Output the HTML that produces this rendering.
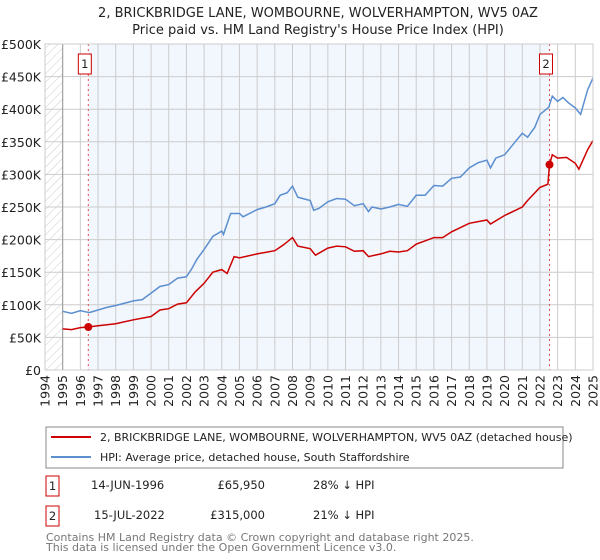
<!DOCTYPE html>
<html><head><meta charset="utf-8"><style>
body{margin:0;background:#fff;}
svg{display:block;font-family:"DejaVu Sans","Liberation Sans",sans-serif;}
</style></head><body>
<svg id="chart" width="600" height="560" xmlns="http://www.w3.org/2000/svg">
<defs><pattern id="hatch" width="6" height="6" patternUnits="userSpaceOnUse" patternTransform="rotate(45)"><line x1="0" y1="0" x2="0" y2="6" stroke="#ccc" stroke-width="1"/></pattern></defs>
<text x="318" y="17" font-size="13" text-anchor="middle" fill="#222">2, BRICKBRIDGE LANE, WOMBOURNE, WOLVERHAMPTON, WV5 0AZ</text>
<text x="318" y="34" font-size="13" text-anchor="middle" fill="#222">Price paid vs. HM Land Registry's House Price Index (HPI)</text>
<g id="plot"></g>
<g>
<rect x="46" y="427" width="517" height="41" fill="#fff" stroke="#888"/>
<line x1="51" y1="437" x2="91" y2="437" stroke="#cc0000" stroke-width="2"/>
<text x="100" y="441" font-size="11" fill="#222">2, BRICKBRIDGE LANE, WOMBOURNE, WOLVERHAMPTON, WV5 0AZ (detached house)</text>
<line x1="51" y1="457" x2="91" y2="457" stroke="#5b8fd0" stroke-width="2"/>
<text x="100" y="461" font-size="11" fill="#222">HPI: Average price, detached house, South Staffordshire</text>
</g>
<g font-size="11.5" fill="#222">
<rect x="46" y="476" width="13" height="20" fill="#fff" stroke="#cc0000"/>
<text x="52.5" y="490" text-anchor="middle">1</text>
<text x="91" y="489">14-JUN-1996</text>
<text x="265" y="489" text-anchor="end">£65,950</text>
<text x="313" y="489">28% ↓ HPI</text>
<rect x="46" y="506" width="13" height="20" fill="#fff" stroke="#cc0000"/>
<text x="52.5" y="520" text-anchor="middle">2</text>
<text x="94" y="519">15-JUL-2022</text>
<text x="265" y="519" text-anchor="end">£315,000</text>
<text x="313" y="519">21% ↓ HPI</text>
</g>
<text x="46" y="541" font-size="11" fill="#777">Contains HM Land Registry data © Crown copyright and database right 2025.</text>
<text x="46" y="551" font-size="11" fill="#777">This data is licensed under the Open Government Licence v3.0.</text>
</svg>
<script>
const hpiYears=[1995,1995.5,1996,1996.5,1997,1997.5,1998,1999,1999.5,2000,2000.5,2001,2001.5,2002,2002.3,2002.6,2003,2003.5,2004,2004.1,2004.5,2005,2005.2,2006,2006.5,2007,2007.3,2007.7,2008,2008.3,2009,2009.2,2009.5,2010,2010.5,2011,2011.5,2012,2012.3,2012.5,2013,2013.5,2014,2014.5,2015,2015.5,2016,2016.5,2017,2017.5,2018,2018.5,2019,2019.2,2019.5,2020,2020.3,2020.6,2021,2021.3,2021.7,2022,2022.5,2022.7,2023,2023.3,2023.6,2024,2024.3,2024.7,2025];
const hpiValues=[90,87,91,88,92,96,99,106,108,118,128,131,141,143,155,170,185,205,213,208,240,240,235,246,250,255,268,272,282,265,260,245,248,258,263,262,252,255,243,250,247,250,254,251,268,268,283,282,294,296,310,318,322,310,325,330,340,350,363,357,372,392,403,420,412,418,410,402,392,430,448];
const priceYears=[1995,1995.5,1996,1996.45,1997,1998,1999,2000,2000.5,2001,2001.5,2002,2002.5,2003,2003.5,2004,2004.3,2004.7,2005,2006,2007,2007.5,2008,2008.3,2009,2009.3,2010,2010.5,2011,2011.5,2012,2012.3,2013,2013.5,2014,2014.5,2015,2016,2016.5,2017,2018,2019,2019.2,2020,2021,2021.3,2022,2022.45,2022.54,2022.7,2023,2023.5,2024,2024.2,2024.7,2025];
const priceValues=[63,62,65,66,68,71,77,82,92,94,101,103,120,133,150,154,148,174,172,178,183,192,203,190,186,176,187,190,189,182,183,174,178,182,181,183,193,203,203,212,225,230,224,237,250,260,280,285,315,330,325,326,317,308,338,352];
const saleYears=[1996.45,2022.54];
const saleValues=[65.95,315];
const saleLabels=["1","2"];
const yTicks=[0,50,100,150,200,250,300,350,400,450,500];
const yTickLabels=["£0","£50K","£100K","£150K","£200K","£250K","£300K","£350K","£400K","£450K","£500K"];
const xTicks=[1994,1995,1996,1997,1998,1999,2000,2001,2002,2003,2004,2005,2006,2007,2008,2009,2010,2011,2012,2013,2014,2015,2016,2017,2018,2019,2020,2021,2022,2023,2024,2025];

const NS="http://www.w3.org/2000/svg";
const L=45,R=593,T=44,B=370;
const x=v=>L+(v-1994)*(R-L)/31;
const y=v=>B-v*(B-T)/500;
const g=document.getElementById('plot');
function mk(tag,attrs){const e=document.createElementNS(NS,tag);for(const k in attrs)e.setAttribute(k,attrs[k]);g.appendChild(e);return e;}
let e;
e=mk('rect',{x:L,y:T,width:R-L,height:B-T,fill:'#fff'});


e=mk('rect',{x:x(saleYears[0]),y:T,width:x(saleYears[1])-x(saleYears[0]),height:B-T,fill:'#f2f6fd'});


e=mk('rect',{x:L,y:T,width:x(1995)-L,height:B-T,fill:'url(#hatch)'});


xTicks.forEach(t=>{
 e=mk('line',{x1:x(t),x2:x(t),y1:T,y2:B,stroke:'#ccc','stroke-width':1});
 
 
 const tx=mk('text',{x:0,y:0,'font-size':12.5,fill:'#222','text-anchor':'end',transform:`translate(${x(t)+4.5},${B+5}) rotate(-90)`});
 tx.textContent=t;
 
 
});
yTicks.forEach((t,i)=>{
 e=mk('line',{x1:L,x2:R,y1:y(t),y2:y(t),stroke:'#ccc','stroke-width':1});
 
 
 const tx=mk('text',{x:L-4,y:y(t)+5,'font-size':12.5,fill:'#222','text-anchor':'end'});
 tx.textContent=yTickLabels[i];
 
 
});
e=mk('line',{x1:x(1995),x2:x(1995),y1:T,y2:B,stroke:'#999'});


saleYears.forEach((s,i)=>{
 e=mk('line',{x1:x(s),x2:x(s),y1:T,y2:B,stroke:'#e05050','stroke-dasharray':'2,3','stroke-width':1});
 
 
 e=mk('rect',{x:x(s)-10,y:54,width:13,height:20,fill:'#fff',stroke:'#cc0000'});
 
 
 const tx=mk('text',{x:x(s)-3.5,y:68,'font-size':11.5,fill:'#222','text-anchor':'middle'});
 tx.textContent=saleLabels[i];
 
 
});
const pts=(xs,vs)=>xs.map((v,i)=>x(v).toFixed(1)+','+y(vs[i]).toFixed(1)).join(' ');
e=mk('polyline',{points:pts(hpiYears,hpiValues),fill:'none',stroke:'#5b8fd0','stroke-width':1.5});


e=mk('polyline',{points:pts(priceYears,priceValues),fill:'none',stroke:'#cc0000','stroke-width':1.5});


saleYears.forEach((s,i)=>{
 e=mk('circle',{cx:x(s),cy:y(saleValues[i]),r:4,fill:'#cc0000'});
 
 
});
e=mk('rect',{x:L,y:T,width:R-L,height:B-T,fill:'none',stroke:'#ccc'});


</script>
</body></html>
